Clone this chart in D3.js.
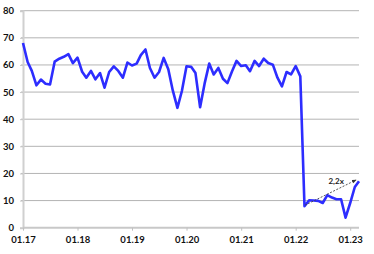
<!DOCTYPE html>
<html>
<head>
<meta charset="utf-8">
<script src="https://cdn.jsdelivr.net/npm/d3@7"></script>
<style>
  html, body { margin: 0; padding: 0; background: #fff; }
  svg { display: block; }
  text { font-family: Lato, "Liberation Sans", sans-serif; }
</style>
</head>
<body>
<svg id="chart" width="374" height="254"></svg>
<script>
// ---- data ----
const startMonth = new Date(2017, 0, 1);
const endMonth = new Date(2023, 2, 1);
const months = d3.timeMonth.range(startMonth, d3.timeMonth.offset(endMonth, 1));
const values = [
  68.1, 61.1, 57.8, 52.5, 54.6, 53.1, 52.8, 61.2, 62.3, 63.0, 64.0, 60.7,
  62.7, 57.5, 55.3, 57.8, 54.7, 57.0, 51.6, 57.4, 59.5, 57.8, 55.3, 60.9,
  59.8, 60.5, 63.6, 65.7, 58.9, 55.3, 57.4, 62.6, 58.4, 50.6, 44.2, 50.4,
  59.5, 59.3, 57.0, 44.4, 53.1, 60.5, 56.5, 58.9, 54.9, 53.3, 57.7, 61.5,
  59.6, 59.9, 57.7, 61.5, 59.6, 62.3, 60.7, 60.1, 55.3, 52.1, 57.4, 56.5,
  59.6, 55.8, 7.9, 10.1, 10.0, 9.9, 9.1, 12.0, 11.1, 10.5, 10.5, 3.7,
  9.1, 15.0, 17.1
];
const xTickLabels = ["01.17", "01.18", "01.19", "01.20", "01.21", "01.22", "01.23"];
const yTicks = [0, 10, 20, 30, 40, 50, 60, 70, 80];
const annotationText = "2,2x";
const annotationFrom = { date: new Date(2022, 2, 4), value: 8.3 };
const annotationTo = { date: new Date(2023, 1, 10), value: 17.6 };

// ---- layout ----
const svg = d3.select("#chart");
const mLeft = 23, mRight = 359, mTop = 10.7, mBottom = 227.7;

const x = d3.scaleTime().domain([startMonth, endMonth]).range([mLeft, mRight]);
const y = d3.scaleLinear().domain([0, 80]).range([mBottom, mTop]);

// gridlines
svg.append("g")
  .selectAll("line")
  .data(yTicks.filter(d => d > 0))
  .join("line")
  .attr("x1", mLeft - 2).attr("x2", mRight)
  .attr("y1", d => y(d)).attr("y2", d => y(d))
  .attr("stroke", "#b4b4b4").attr("stroke-width", 1);

// y axis
const yAxis = svg.append("g")
  .attr("transform", `translate(${mLeft},0)`)
  .call(d3.axisLeft(y).tickValues(yTicks).tickSize(3).tickPadding(6));
yAxis.select(".domain").attr("stroke", "#d0d0d0").attr("stroke-width", 2);
yAxis.selectAll(".tick line").attr("stroke", "#c8c8c8");
yAxis.selectAll(".tick text")
  .attr("font-size", 9.5).attr("font-weight", "bold").attr("fill", "#111")
  .attr("font-family", "Lato, 'Liberation Sans', sans-serif");

// x axis
const xTickDates = xTickLabels.map(s => new Date(2000 + +s.slice(3), +s.slice(0, 2) - 1, 1));
const xAxis = svg.append("g")
  .attr("transform", `translate(0,${mBottom})`)
  .call(d3.axisBottom(x).tickValues(xTickDates)
    .tickFormat((d, i) => xTickLabels[i]).tickSize(3).tickPadding(6).tickSizeOuter(0));
xAxis.select(".domain").attr("stroke", "#c8c8c8").attr("stroke-width", 2)
  .attr("d", `M${mLeft},0H${mRight}`);
xAxis.selectAll(".tick line").attr("stroke", "#c0c0c0");
xAxis.selectAll(".tick text")
  .attr("font-size", 9.5).attr("font-weight", "bold").attr("fill", "#111")
  .attr("font-family", "Lato, 'Liberation Sans', sans-serif");

// line
const line = d3.line()
  .x((d, i) => x(months[i]))
  .y(d => y(d));
svg.append("path")
  .datum(values)
  .attr("d", line)
  .attr("fill", "none")
  .attr("stroke", "#2d2dff")
  .attr("stroke-width", 2.6)
  .attr("stroke-linejoin", "round");

// annotation arrow
const defs = svg.append("defs");
defs.append("marker")
  .attr("id", "arr").attr("viewBox", "0 0 10 10")
  .attr("refX", 9).attr("refY", 5)
  .attr("markerWidth", 5).attr("markerHeight", 5)
  .attr("orient", "auto")
  .append("path").attr("d", "M0,1L10,5L0,9Z").attr("fill", "#333");

svg.append("line")
  .attr("x1", x(annotationFrom.date)).attr("y1", y(annotationFrom.value))
  .attr("x2", x(annotationTo.date)).attr("y2", y(annotationTo.value))
  .attr("stroke", "#444").attr("stroke-width", 0.9)
  .attr("stroke-dasharray", "2,1.5")
  .attr("marker-end", "url(#arr)");

svg.append("text")
  .attr("x", x(annotationTo.date) - 20)
  .attr("y", y(annotationTo.value) + 4.5)
  .attr("text-anchor", "middle")
  .attr("font-size", 8).attr("font-weight", "bold").attr("fill", "#222")
  .text(annotationText);
</script>
</body>
</html>
